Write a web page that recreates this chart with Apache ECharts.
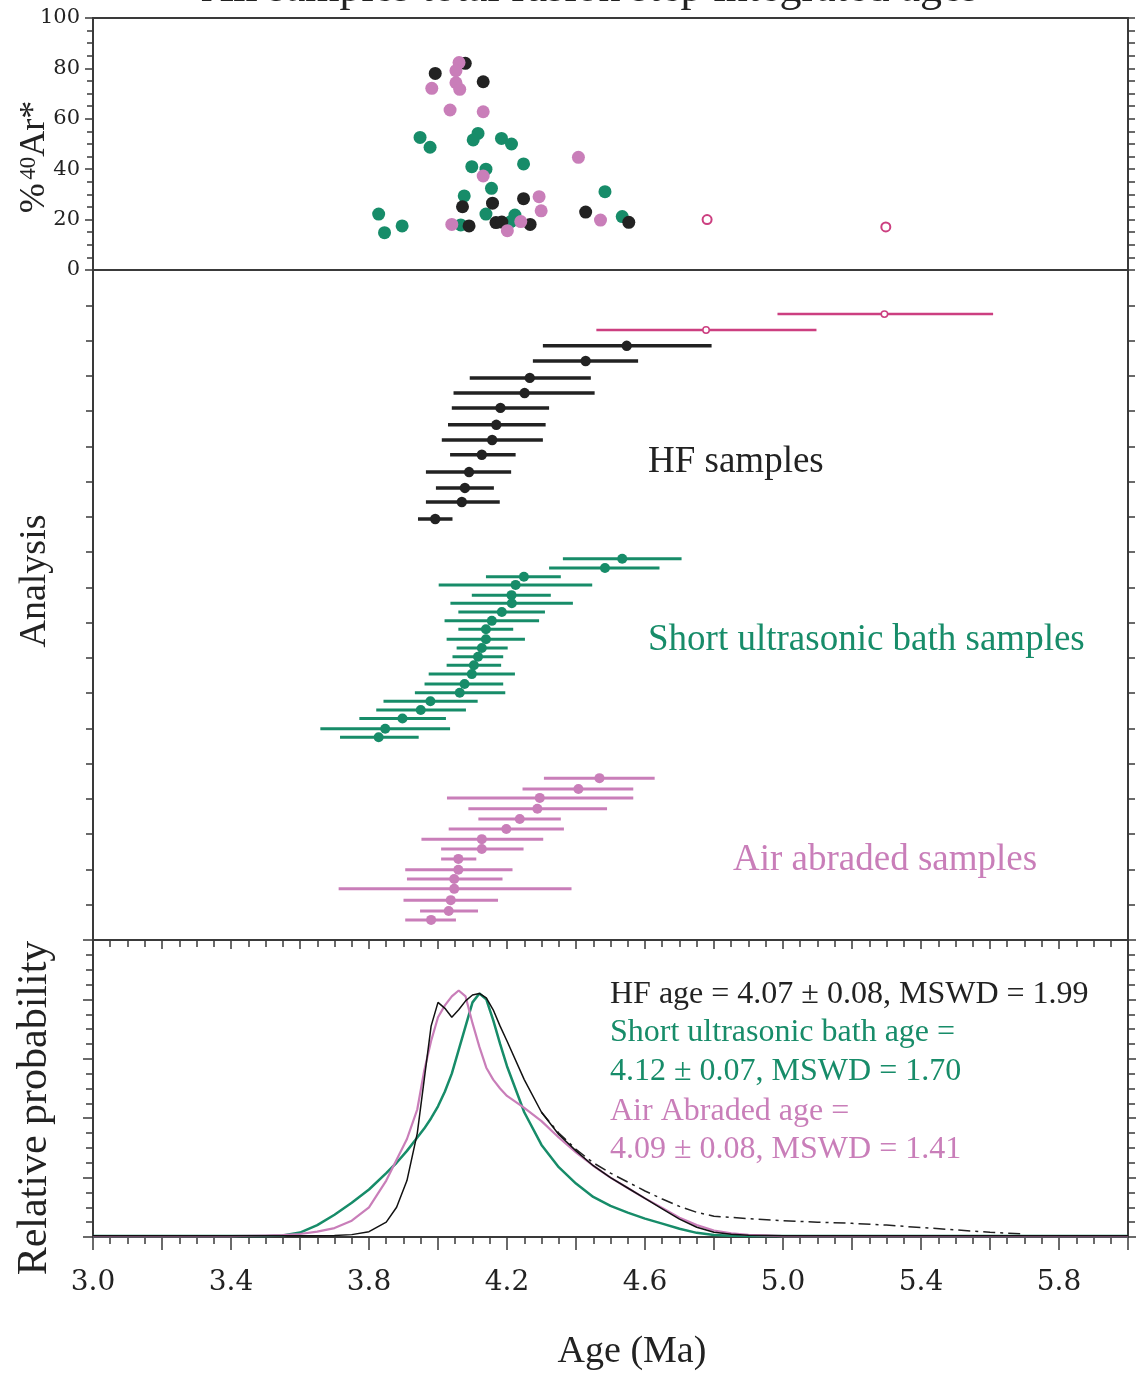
<!DOCTYPE html>
<html>
<head>
<meta charset="utf-8">
<script src="https://cdn.jsdelivr.net/npm/echarts@6/dist/echarts.min.js"></script>
<style>
html,body{margin:0;padding:0;background:#fff;}
#chart{width:1139px;height:1374px;}
</style>
</head>
<body>
<div id="chart"></div>
<script>
// ---------- DATA ----------
// Top panel: %40Ar* vs total-fusion age
const hfPctAge = [3.992,4.079,4.131,4.071,4.158,4.248,4.090,4.168,4.185,4.267,4.428,4.553];
const hfPctAr  = [78.0,82.0,74.7,25.1,26.5,28.3,17.5,18.8,19.0,18.1,23.0,18.9];
const sbPctAge = [3.948,3.977,4.116,4.102,4.184,4.213,4.248,4.098,4.139,4.155,4.076,3.828,3.896,3.845,4.139,4.223,4.211,4.066,4.484,4.534];
const sbPctAr  = [52.6,48.7,54.2,51.6,52.2,50.0,42.1,41.0,40.0,32.4,29.4,22.2,17.5,14.8,22.2,21.8,19.2,17.9,31.1,21.2];
const aaPctAge = [4.061,4.052,3.982,4.052,4.063,4.035,4.131,4.131,4.407,4.293,4.299,4.040,4.240,4.201,4.471];
const aaPctAr  = [82.3,79.1,72.1,74.3,71.7,63.5,62.8,37.3,44.7,29.1,23.5,18.1,19.2,15.6,19.8];
const outPctAge = [4.780,5.298];
const outPctAr  = [20.0,17.1];

// Middle panel: ages with 2-sigma ranges, by analysis position
const outLow  = [4.984,4.459];
const outAge  = [5.294,4.777];
const outHigh = [5.609,5.097];
const outRow  = [17.75,17.30];

const hfLow  = [4.304,4.275,4.092,4.045,4.040,4.029,4.011,4.035,3.965,3.994,3.965,3.942];
const hfAge  = [4.547,4.428,4.266,4.251,4.181,4.169,4.157,4.127,4.090,4.078,4.069,3.992];
const hfHigh = [4.793,4.580,4.443,4.454,4.322,4.312,4.304,4.225,4.212,4.162,4.179,4.042];
const hfRow  = [16.85,16.42,15.94,15.51,15.09,14.61,14.18,13.76,13.27,12.82,12.42,11.94];

const sbLow  = [4.362,4.322,4.139,4.002,4.098,4.036,4.059,4.019,4.059,4.025,4.054,4.042,4.025,3.973,3.961,3.933,3.842,3.821,3.772,3.659,3.716];
const sbAge  = [4.534,4.484,4.249,4.225,4.213,4.214,4.185,4.156,4.139,4.139,4.127,4.116,4.104,4.098,4.077,4.063,3.978,3.950,3.897,3.847,3.828];
const sbHigh = [4.706,4.642,4.356,4.447,4.327,4.391,4.310,4.293,4.218,4.252,4.202,4.189,4.183,4.223,4.189,4.195,4.115,4.081,4.023,4.035,3.944];
const sbRow  = [10.81,10.55,10.30,10.07,9.78,9.55,9.30,9.05,8.81,8.53,8.28,8.03,7.79,7.54,7.26,7.01,6.77,6.52,6.28,5.99,5.75];

const aaLow  = [4.307,4.245,4.026,4.088,4.117,4.031,3.952,4.009,4.009,3.905,3.910,3.712,3.900,3.948,3.905];
const aaAge  = [4.468,4.407,4.295,4.288,4.237,4.198,4.127,4.127,4.059,4.059,4.047,4.047,4.037,4.031,3.980];
const aaHigh = [4.628,4.566,4.566,4.490,4.356,4.365,4.305,4.248,4.111,4.216,4.187,4.387,4.174,4.116,4.052];
const aaRow  = [4.59,4.28,4.03,3.72,3.43,3.15,2.86,2.58,2.30,1.99,1.73,1.45,1.13,0.82,0.57];

// Bottom panel: relative probability curves
const probAge = [3.0,3.4,3.5,3.55,3.6,3.65,3.7,3.75,3.8,3.85,3.88,3.91,3.94,3.96,3.98,4.0,4.02,4.04,4.06,4.08,4.1,4.12,4.14,4.16,4.18,4.2,4.25,4.3,4.35,4.4,4.45,4.5,4.55,4.6,4.65,4.7,4.75,4.8,4.85,4.9,5.0,5.2,5.5,6.0];
const hfProb = [0.004,0.004,0.004,0.004,0.004,0.004,0.005,0.008,0.018,0.05,0.10,0.19,0.35,0.53,0.71,0.79,0.77,0.74,0.765,0.795,0.815,0.82,0.805,0.765,0.71,0.66,0.53,0.42,0.345,0.29,0.24,0.20,0.165,0.13,0.095,0.06,0.033,0.016,0.009,0.006,0.004,0.004,0.004,0.004];
const sbProb = [0.003,0.003,0.003,0.005,0.015,0.04,0.075,0.115,0.16,0.215,0.25,0.29,0.335,0.365,0.40,0.44,0.49,0.55,0.63,0.71,0.79,0.82,0.80,0.73,0.65,0.575,0.42,0.31,0.235,0.18,0.135,0.105,0.082,0.062,0.045,0.028,0.014,0.007,0.004,0.003,0.003,0.003,0.003,0.003];
const aaProb = [0.003,0.003,0.005,0.006,0.01,0.018,0.03,0.055,0.10,0.19,0.26,0.33,0.43,0.56,0.66,0.74,0.78,0.81,0.83,0.81,0.72,0.64,0.57,0.53,0.50,0.475,0.435,0.39,0.335,0.285,0.24,0.20,0.165,0.13,0.098,0.065,0.04,0.022,0.012,0.007,0.003,0.003,0.003,0.003];
const allAge  = [4.3,4.35,4.4,4.45,4.5,4.55,4.6,4.65,4.7,4.75,4.8,4.9,5.0,5.1,5.2,5.3,5.4,5.5,5.6,5.7];
const allProb = [0.42,0.35,0.295,0.25,0.215,0.185,0.155,0.128,0.103,0.083,0.07,0.062,0.055,0.05,0.046,0.04,0.032,0.024,0.016,0.010];

// Tick labels
const ageTickLabels = ['3.0','3.4','3.8','4.2','4.6','5.0','5.4','5.8'];

// ---------- STYLE ----------
const BLACK = '#222222', GREEN = '#178c69', PINK = '#c97eb9', MAGENTA = '#cc3f80';
const SERIF = '"Liberation Serif", "Times New Roman", serif';
const NUMF = '"DejaVu Serif", serif';
const FRAME = '#3a3a3a';

function zip(a, b) { return a.map((v, i) => [v, b[i]]); }
function rows(lo, c, hi, r) { return lo.map((v, i) => [v, c[i], hi[i], r[i]]); }

function errRender(color, lw, r, open) {
  return function (params, api) {
    const y = api.value(3);
    const p1 = api.coord([api.value(0), y]);
    const p2 = api.coord([api.value(2), y]);
    const pc = api.coord([api.value(1), y]);
    return {
      type: 'group',
      children: [
        { type: 'line', shape: { x1: p1[0], y1: p1[1], x2: p2[0], y2: p2[1] }, style: { stroke: color, lineWidth: lw } },
        { type: 'circle', shape: { cx: pc[0], cy: pc[1], r: r },
          style: open ? { fill: '#fff', stroke: color, lineWidth: 1.5 } : { fill: color } }
      ]
    };
  };
}

const L = 93, W = 1035;
const gridBase = { left: L, width: W, show: true, borderColor: FRAME, borderWidth: 2, backgroundColor: 'transparent' };

function xBase(gi, extra) {
  return Object.assign({
    type: 'value', gridIndex: gi, min: 3, max: 6, interval: 0.2,
    splitLine: { show: false },
    axisLine: { show: true, lineStyle: { color: FRAME, width: 2 } },
    axisLabel: { show: false },
    axisTick: { show: false },
    minorTick: { show: false }
  }, extra);
}
function yBase(gi, extra) {
  return Object.assign({
    type: 'value', gridIndex: gi,
    splitLine: { show: false },
    axisLine: { show: true, lineStyle: { color: FRAME, width: 2 } },
    axisLabel: { show: false },
    axisTick: { show: true, inside: false, length: 8, lineStyle: { color: FRAME, width: 1.5 } },
    minorTick: { show: false }
  }, extra);
}

const chart = echarts.init(document.getElementById('chart'), null, { renderer: 'canvas' });

const option = {
  animation: false,
  backgroundColor: '#fff',
  grid: [
    Object.assign({ top: 18, height: 252 }, gridBase),
    Object.assign({ top: 270, height: 670 }, gridBase),
    Object.assign({ top: 940, height: 297 }, gridBase)
  ],
  xAxis: [
    xBase(0, { position: 'bottom' }),
    xBase(1, { position: 'top',
      axisTick: { show: true, inside: true, length: 9, lineStyle: { color: FRAME, width: 1.5 } },
      minorTick: { show: true, splitNumber: 4, length: 7, lineStyle: { color: FRAME, width: 1.5 } } }),
    xBase(2, { position: 'top',
      axisTick: { show: true, inside: true, length: 9, lineStyle: { color: FRAME, width: 1.5 } },
      minorTick: { show: true, splitNumber: 4, length: 7, lineStyle: { color: FRAME, width: 1.5 } } }),
    xBase(2, { position: 'bottom',
      axisTick: { show: true, inside: false, length: 13, lineStyle: { color: FRAME, width: 1.5 } },
      minorTick: { show: true, splitNumber: 4, length: 7, lineStyle: { color: FRAME, width: 1.5 } },
      axisLabel: { show: true, margin: 32, color: '#222', fontFamily: NUMF, fontSize: 28,
        formatter: function (v) {
          const s = v.toFixed(1);
          return ageTickLabels.indexOf(s) >= 0 && Math.abs((v - 3) / 0.4 - Math.round((v - 3) / 0.4)) < 1e-6 ? s : '';
        } } })
  ],
  yAxis: [
    yBase(0, { position: 'left', min: 0, max: 100, interval: 20,
      axisLabel: { show: true, margin: 13, color: '#222', fontFamily: NUMF, fontSize: 21 },
      minorTick: { show: true, splitNumber: 4, length: 6, lineStyle: { color: FRAME, width: 1.5 } } }),
    yBase(0, { position: 'right', min: 0, max: 100, interval: 20,
      axisTick: { show: true, inside: false, length: 7, lineStyle: { color: FRAME, width: 1.5 } },
      minorTick: { show: true, splitNumber: 4, length: 7, lineStyle: { color: FRAME, width: 1.5 } } }),
    yBase(1, { position: 'left', min: 0, max: 19, interval: 1,
      axisTick: { show: true, inside: false, length: 7, lineStyle: { color: FRAME, width: 1.5 } } }),
    yBase(1, { position: 'right', min: 0, max: 19, interval: 1,
      axisTick: { show: true, inside: false, length: 7, lineStyle: { color: FRAME, width: 1.5 } } }),
    yBase(2, { position: 'left', min: 0, max: 1, interval: 0.2,
      axisTick: { show: true, inside: false, length: 10, lineStyle: { color: FRAME, width: 1.5 } },
      minorTick: { show: true, splitNumber: 4, length: 7, lineStyle: { color: FRAME, width: 1.5 } } }),
    yBase(2, { position: 'right', min: 0, max: 1, interval: 0.2,
      axisTick: { show: true, inside: false, length: 8, lineStyle: { color: FRAME, width: 1.5 } },
      minorTick: { show: true, splitNumber: 4, length: 7, lineStyle: { color: FRAME, width: 1.5 } } })
  ],
  series: [
    // top scatter
    { type: 'scatter', xAxisIndex: 0, yAxisIndex: 0, data: zip(sbPctAge, sbPctAr), symbolSize: 13, itemStyle: { color: GREEN, opacity: 1 } },
    { type: 'scatter', xAxisIndex: 0, yAxisIndex: 0, data: zip(hfPctAge, hfPctAr), symbolSize: 13, itemStyle: { color: BLACK, opacity: 1 } },
    { type: 'scatter', xAxisIndex: 0, yAxisIndex: 0, data: zip(aaPctAge, aaPctAr), symbolSize: 13, itemStyle: { color: PINK, opacity: 1 } },
    { type: 'scatter', xAxisIndex: 0, yAxisIndex: 0, data: zip(outPctAge, outPctAr), symbolSize: 9, itemStyle: { color: '#fff', borderColor: MAGENTA, borderWidth: 2, opacity: 1 } },
    // middle error bars
    { type: 'custom', xAxisIndex: 1, yAxisIndex: 2, data: rows(outLow, outAge, outHigh, outRow), renderItem: errRender(MAGENTA, 2.5, 3.2, true), encode: { x: [0, 1, 2], y: 3 } },
    { type: 'custom', xAxisIndex: 1, yAxisIndex: 2, data: rows(hfLow, hfAge, hfHigh, hfRow), renderItem: errRender(BLACK, 3.5, 5.2, false), encode: { x: [0, 1, 2], y: 3 } },
    { type: 'custom', xAxisIndex: 1, yAxisIndex: 2, data: rows(sbLow, sbAge, sbHigh, sbRow), renderItem: errRender(GREEN, 3, 5, false), encode: { x: [0, 1, 2], y: 3 } },
    { type: 'custom', xAxisIndex: 1, yAxisIndex: 2, data: rows(aaLow, aaAge, aaHigh, aaRow), renderItem: errRender(PINK, 3, 5, false), encode: { x: [0, 1, 2], y: 3 } },
    // bottom probability curves
    { type: 'line', xAxisIndex: 3, yAxisIndex: 4, data: zip(allAge, allProb), showSymbol: false, symbol: 'none', lineStyle: { color: BLACK, width: 1.5, type: [12, 5, 3, 5] } },
    { type: 'line', xAxisIndex: 3, yAxisIndex: 4, data: zip(probAge, sbProb), showSymbol: false, symbol: 'none', lineStyle: { color: GREEN, width: 2.5 } },
    { type: 'line', xAxisIndex: 3, yAxisIndex: 4, data: zip(probAge, aaProb), showSymbol: false, symbol: 'none', lineStyle: { color: PINK, width: 2.2 } },
    { type: 'line', xAxisIndex: 3, yAxisIndex: 4, data: zip(probAge, hfProb), showSymbol: false, symbol: 'none', lineStyle: { color: '#111', width: 1.5 } }
  ],
  graphic: [
    { type: 'text', x: 590, y: 11, style: { text: 'All samples total fusion step integrated ages', font: '44px ' + SERIF, fill: '#222', align: 'center', verticalAlign: 'bottom' } },
    { type: 'text', x: 35, y: 157, rotation: Math.PI / 2,
      style: { text: '{a|%} {s|40}{a|Ar*}', align: 'center', verticalAlign: 'middle', fill: '#222',
        rich: { a: { font: '36px ' + SERIF, fill: '#222' }, s: { font: '23px ' + SERIF, fill: '#222', verticalAlign: 'top', padding: [0, 0, 12, 0] } } } },
    { type: 'text', x: 35, y: 581, rotation: Math.PI / 2, style: { text: 'Analysis', font: '38px ' + SERIF, fill: '#222', align: 'center', verticalAlign: 'middle' } },
    { type: 'text', x: 35, y: 1108, rotation: Math.PI / 2, style: { text: 'Relative probability', font: '42px ' + SERIF, fill: '#222', align: 'center', verticalAlign: 'middle' } },
    { type: 'text', x: 632, y: 1352, style: { text: 'Age (Ma)', font: '38px ' + SERIF, fill: '#222', align: 'center', verticalAlign: 'middle' } },
    { type: 'text', x: 648, y: 462, style: { text: 'HF samples', font: '37px ' + SERIF, fill: '#222', align: 'left', verticalAlign: 'middle' } },
    { type: 'text', x: 648, y: 640, style: { text: 'Short ultrasonic bath samples', font: '37px ' + SERIF, fill: GREEN, align: 'left', verticalAlign: 'middle' } },
    { type: 'text', x: 733, y: 860, style: { text: 'Air abraded samples', font: '37px ' + SERIF, fill: PINK, align: 'left', verticalAlign: 'middle' } },
    { type: 'text', x: 610, y: 995, style: { text: 'HF age = 4.07 \u00b1 0.08, MSWD = 1.99', font: '32px ' + SERIF, fill: '#222', align: 'left', verticalAlign: 'middle' } },
    { type: 'text', x: 610, y: 1033, style: { text: 'Short ultrasonic bath age =', font: '32px ' + SERIF, fill: GREEN, align: 'left', verticalAlign: 'middle' } },
    { type: 'text', x: 610, y: 1072, style: { text: '4.12 \u00b1 0.07, MSWD = 1.70', font: '32px ' + SERIF, fill: GREEN, align: 'left', verticalAlign: 'middle' } },
    { type: 'text', x: 610, y: 1112, style: { text: 'Air Abraded age =', font: '32px ' + SERIF, fill: PINK, align: 'left', verticalAlign: 'middle' } },
    { type: 'text', x: 610, y: 1150, style: { text: '4.09 \u00b1 0.08, MSWD = 1.41', font: '32px ' + SERIF, fill: PINK, align: 'left', verticalAlign: 'middle' } }
  ]
};
chart.setOption(option);
</script>
</body>
</html>
